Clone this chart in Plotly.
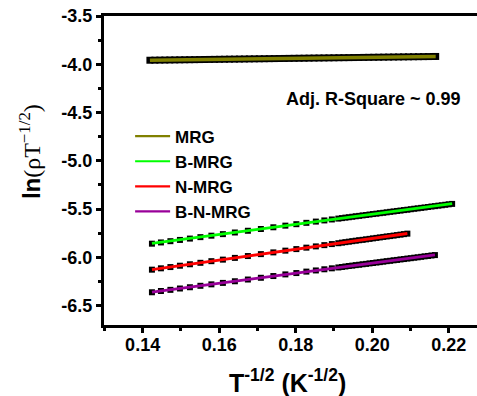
import numpy as np
import plotly.graph_objects as go

# T^-1/2 (K^-1/2) sampling shared by the three doped samples
t_inv_sqrt = [0.14243, 0.14478, 0.14726, 0.14975, 0.15236, 0.15510, 0.15797, 0.16098,
              0.16411, 0.16751, 0.17091, 0.17417, 0.17731, 0.18018, 0.18280, 0.18528,
              0.18750, 0.18946, 0.19116, 0.1921, 0.1930, 0.1939, 0.1948, 0.1957,
              0.1966, 0.1975, 0.1984, 0.1993, 0.2002, 0.2011, 0.2020, 0.2029,
              0.2038, 0.2047, 0.2056, 0.2065, 0.2074, 0.2083, 0.2092, 0.2101,
              0.2110, 0.2119, 0.2128, 0.2137, 0.2146, 0.2155, 0.2164, 0.2173,
              0.2182, 0.2191, 0.2200, 0.2209]

# ln(rho T^-1/2) for each sample
y_bmrg = [-5.858, -5.845, -5.832, -5.819, -5.805, -5.790, -5.775, -5.759, -5.742, -5.724,
          -5.706, -5.688, -5.671, -5.656, -5.642, -5.629, -5.617, -5.607, -5.598,
          -5.593, -5.588, -5.584, -5.579, -5.574, -5.570, -5.565, -5.561, -5.556, -5.551,
          -5.547, -5.542, -5.538, -5.533, -5.528, -5.524, -5.519, -5.515, -5.510, -5.506,
          -5.501, -5.496, -5.492, -5.487, -5.483, -5.478, -5.473, -5.469, -5.464, -5.460,
          -5.455, -5.450, -5.446]
y_nmrg = [-6.127, -6.113, -6.100, -6.086, -6.071, -6.056, -6.039, -6.023, -6.005, -5.986,
          -5.966, -5.948, -5.930, -5.914, -5.899, -5.886, -5.873, -5.862, -5.853,
          -5.847, -5.842, -5.837, -5.832, -5.827, -5.822, -5.818, -5.813, -5.808, -5.803,
          -5.798, -5.793, -5.788, -5.783, -5.779, -5.774, -5.769, -5.764, -5.759, -5.754]
y_bnmrg = [-6.361, -6.348, -6.336, -6.322, -6.309, -6.294, -6.279, -6.264, -6.247, -6.229,
           -6.211, -6.193, -6.176, -6.162, -6.147, -6.135, -6.123, -6.113, -6.104,
           -6.099, -6.094, -6.089, -6.085, -6.080, -6.076, -6.071, -6.067, -6.062, -6.058,
           -6.053, -6.049, -6.044, -6.039, -6.035, -6.030, -6.026, -6.021, -6.017, -6.012,
           -6.008, -6.003, -5.999, -5.994, -5.989, -5.985, -5.980, -5.976]

# undoped MRG was sampled more finely
x_mrg = [0.1419, 0.1432, 0.1445, 0.1458, 0.1471, 0.1484, 0.1497, 0.1510, 0.1523, 0.1536,
         0.1549, 0.1562, 0.1575, 0.1588, 0.1601, 0.1614, 0.1627, 0.1640, 0.1653, 0.1666,
         0.1679, 0.1692, 0.1705, 0.1718, 0.1731, 0.1744, 0.1757, 0.1770, 0.1783, 0.1796,
         0.1809, 0.1822, 0.1835, 0.1848, 0.1861, 0.1874, 0.1887, 0.1900, 0.1913, 0.1926,
         0.1939, 0.1952, 0.1965, 0.1978, 0.1991, 0.2004, 0.2017, 0.2030, 0.2043, 0.2056,
         0.2069, 0.2082, 0.2095, 0.2108, 0.2121, 0.2134, 0.2147, 0.2160, 0.2166]
y_mrg = [-3.9580, -3.9573, -3.9566, -3.9560, -3.9553, -3.9546, -3.9539, -3.9532, -3.9526,
         -3.9519, -3.9512, -3.9505, -3.9499, -3.9492, -3.9485, -3.9478, -3.9471, -3.9465,
         -3.9458, -3.9451, -3.9444, -3.9437, -3.9431, -3.9424, -3.9417, -3.9410, -3.9404,
         -3.9397, -3.9390, -3.9383, -3.9376, -3.9370, -3.9363, -3.9356, -3.9349, -3.9342,
         -3.9336, -3.9329, -3.9322, -3.9315, -3.9309, -3.9302, -3.9295, -3.9288, -3.9281,
         -3.9275, -3.9268, -3.9261, -3.9254, -3.9247, -3.9241, -3.9234, -3.9227, -3.9220,
         -3.9214, -3.9207, -3.9200, -3.9193, -3.9190]

names = ["MRG", "B-MRG", "N-MRG", "B-N-MRG"]
colors = ["#808000", "#00ff00", "#ff0000", "#990099"]

x_ticks = [0.14, 0.16, 0.18, 0.20, 0.22]
x_tick_labels = ["0.14", "0.16", "0.18", "0.20", "0.22"]
y_ticks = [-3.5, -4.0, -4.5, -5.0, -5.5, -6.0, -6.5]
y_tick_labels = ["-3.5", "-4.0", "-4.5", "-5.0", "-5.5", "-6.0", "-6.5"]

series = [
    (x_mrg, y_mrg),
    (t_inv_sqrt[:len(y_bmrg)], y_bmrg),
    (t_inv_sqrt[:len(y_nmrg)], y_nmrg),
    (t_inv_sqrt[:len(y_bnmrg)], y_bnmrg),
]

FONT = "Liberation Sans, Arial, sans-serif"

fig = go.Figure()

# measured points: black squares
for i, (xs, ys) in enumerate(series):
    fig.add_trace(go.Scatter(
        x=xs, y=ys, mode="markers", showlegend=False, hoverinfo="skip",
        marker=dict(symbol="square", size=7 if i == 0 else 6, color="black",
                    line=dict(width=0)),
    ))

# linear fits drawn over the points
for (xs, ys), name, col in zip(series, names, colors):
    k, b = np.polyfit(xs, ys, 1)
    xf = [xs[0], xs[-1]]
    yf = [k * xf[0] + b, k * xf[1] + b]
    fig.add_trace(go.Scatter(
        x=xf, y=yf, mode="lines", name=name, legendgroup=name, showlegend=False,
        line=dict(color=col, width=3.5 if name == "MRG" else 2.8),
    ))

# legend keys use a thinner stroke than the fit lines
for name, col in zip(names, colors):
    fig.add_trace(go.Scatter(
        x=[None], y=[None], mode="lines", name=name, legendgroup=name,
        line=dict(color=col, width=2.2),
    ))

fig.add_annotation(
    text="<b>Adj. R-Square ~ 0.99</b>", xref="paper", yref="paper",
    x=0.482, y=0.731, xanchor="left", yanchor="middle", showarrow=False,
    font=dict(family=FONT, size=18, color="black"),
)
fig.add_annotation(
    text="<b>ln</b><span style='font-family:Liberation Serif'>(ρT<sup>−1/2</sup>)</span>",
    xref="paper", yref="paper", x=-0.198, y=0.56, xanchor="center", yanchor="middle",
    textangle=-90, showarrow=False, font=dict(family=FONT, size=24, color="black"),
)
fig.add_annotation(
    text="<b>T<sup>-1/2</sup> (K<sup>-1/2</sup>)</b>",
    xref="paper", yref="paper", x=0.493, y=-0.181, xanchor="center", yanchor="middle",
    showarrow=False, font=dict(family=FONT, size=25, color="black"),
)

fig.update_layout(
    width=477, height=396,
    margin=dict(l=104, r=0, t=16, b=71),
    paper_bgcolor="white", plot_bgcolor="white",
    font=dict(family=FONT, color="black"),
    legend=dict(
        x=0.07, y=0.668, xanchor="left", yanchor="top",
        bgcolor="rgba(0,0,0,0)", borderwidth=0,
        font=dict(family=FONT, size=17, weight="bold", color="black"),
        itemwidth=35, tracegroupgap=0,
    ),
)
fig.update_xaxes(
    range=[0.1299, 0.2274], showgrid=False, zeroline=False,
    showline=True, linecolor="black", linewidth=3, mirror=True,
    tickmode="array", tickvals=x_ticks,
    ticktext=["<b>%s</b>" % t for t in x_tick_labels],
    ticks="outside", ticklen=5, tickwidth=2.5, tickcolor="black",
    ticklabelstandoff=-4,
    tickfont=dict(family=FONT, size=18, weight="bold", color="black"),
    minor=dict(tickmode="linear", tick0=0.13, dtick=0.01, ticks="outside",
               ticklen=3, tickwidth=2.5, tickcolor="black"),
)
fig.update_yaxes(
    range=[-6.7, -3.5], showgrid=False, zeroline=False,
    showline=True, linecolor="black", linewidth=3,
    tickmode="array", tickvals=y_ticks,
    ticktext=["<b>%s</b>" % t for t in y_tick_labels],
    ticks="outside", ticklen=5, tickwidth=2.5, tickcolor="black",
    tickfont=dict(family=FONT, size=18, weight="bold", color="black"),
    minor=dict(tickmode="linear", tick0=-3.5, dtick=0.25, ticks="outside",
               ticklen=3, tickwidth=2.5, tickcolor="black"),
)

fig.write_html("out.html")
